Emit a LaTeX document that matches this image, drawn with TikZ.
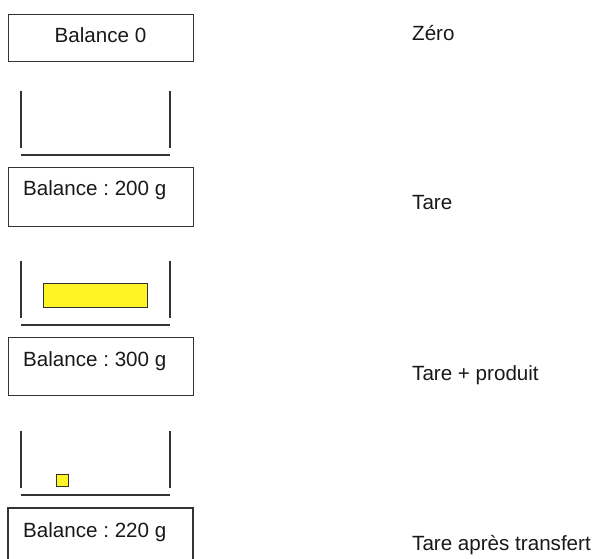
\documentclass[tikz,border=0pt]{standalone}
\usepackage{fontspec}
\setmainfont{Liberation Sans}
\frenchspacing
\begin{document}
\begin{tikzpicture}[x=1pt,y=-1pt,
  line/.style={draw=black!80,line width=1.1pt},
  box/.style={draw=black!80,line width=1.1pt,inner sep=0pt,anchor=north west},
  txt/.style={font=\fontsize{20.6}{24}\selectfont,inner sep=0pt,text=black!90},
  prod/.style={draw=black!80,line width=1pt,fill=yellow!85!white}]
\useasboundingbox (0,0) rectangle (599,558);
% balance boxes
\node[box,minimum width=185pt,minimum height=47pt] (b1) at (8,14) {};
\node[txt,anchor=base] (t1) at (100.5,42) {Balance 0};
\node[box,minimum width=185pt,minimum height=59pt] (b2) at (8,167) {};
\node[txt,anchor=base west] (t2) at (23,195.5) {Balance : 200 g};
\node[box,minimum width=185pt,minimum height=58pt] (b3) at (8,337) {};
\node[txt,anchor=base west] (t3) at (23,366) {Balance : 300 g};
\coordinate (b4a) at (8,560);
\coordinate (b4b) at (8,508);
\coordinate (b4c) at (193,508);
\coordinate (b4d) at (193,560);
\draw[line] (b4a) -- (b4b) -- (b4c) -- (b4d);
\node[txt,anchor=base west] (t4) at (23,537) {Balance : 220 g};
% containers
\foreach \top/\bot/\base in {91/148/155, 261/318/325, 431/488/495}{
  \draw[line] (21,\top) -- (21,\bot);
  \draw[line] (170,\top) -- (170,\bot);
  \draw[line] (21,\base) -- (170,\base);
}
% products
\node[prod,inner sep=0pt,minimum width=104pt,minimum height=24pt,anchor=north west] (p1) at (43,283) {};
\node[prod,inner sep=0pt,minimum width=12pt,minimum height=12pt,anchor=north west] (p2) at (55.5,473.5) {};
% labels
\node[txt,anchor=base west] (l1) at (412,40) {Zéro};
\node[txt,anchor=base west] (l2) at (412,209) {Tare};
\node[txt,anchor=base west] (l3) at (412,380) {Tare + produit};
\node[txt,anchor=base west] (l4) at (412,550) {Tare après transfert};
\end{tikzpicture}
\end{document}
